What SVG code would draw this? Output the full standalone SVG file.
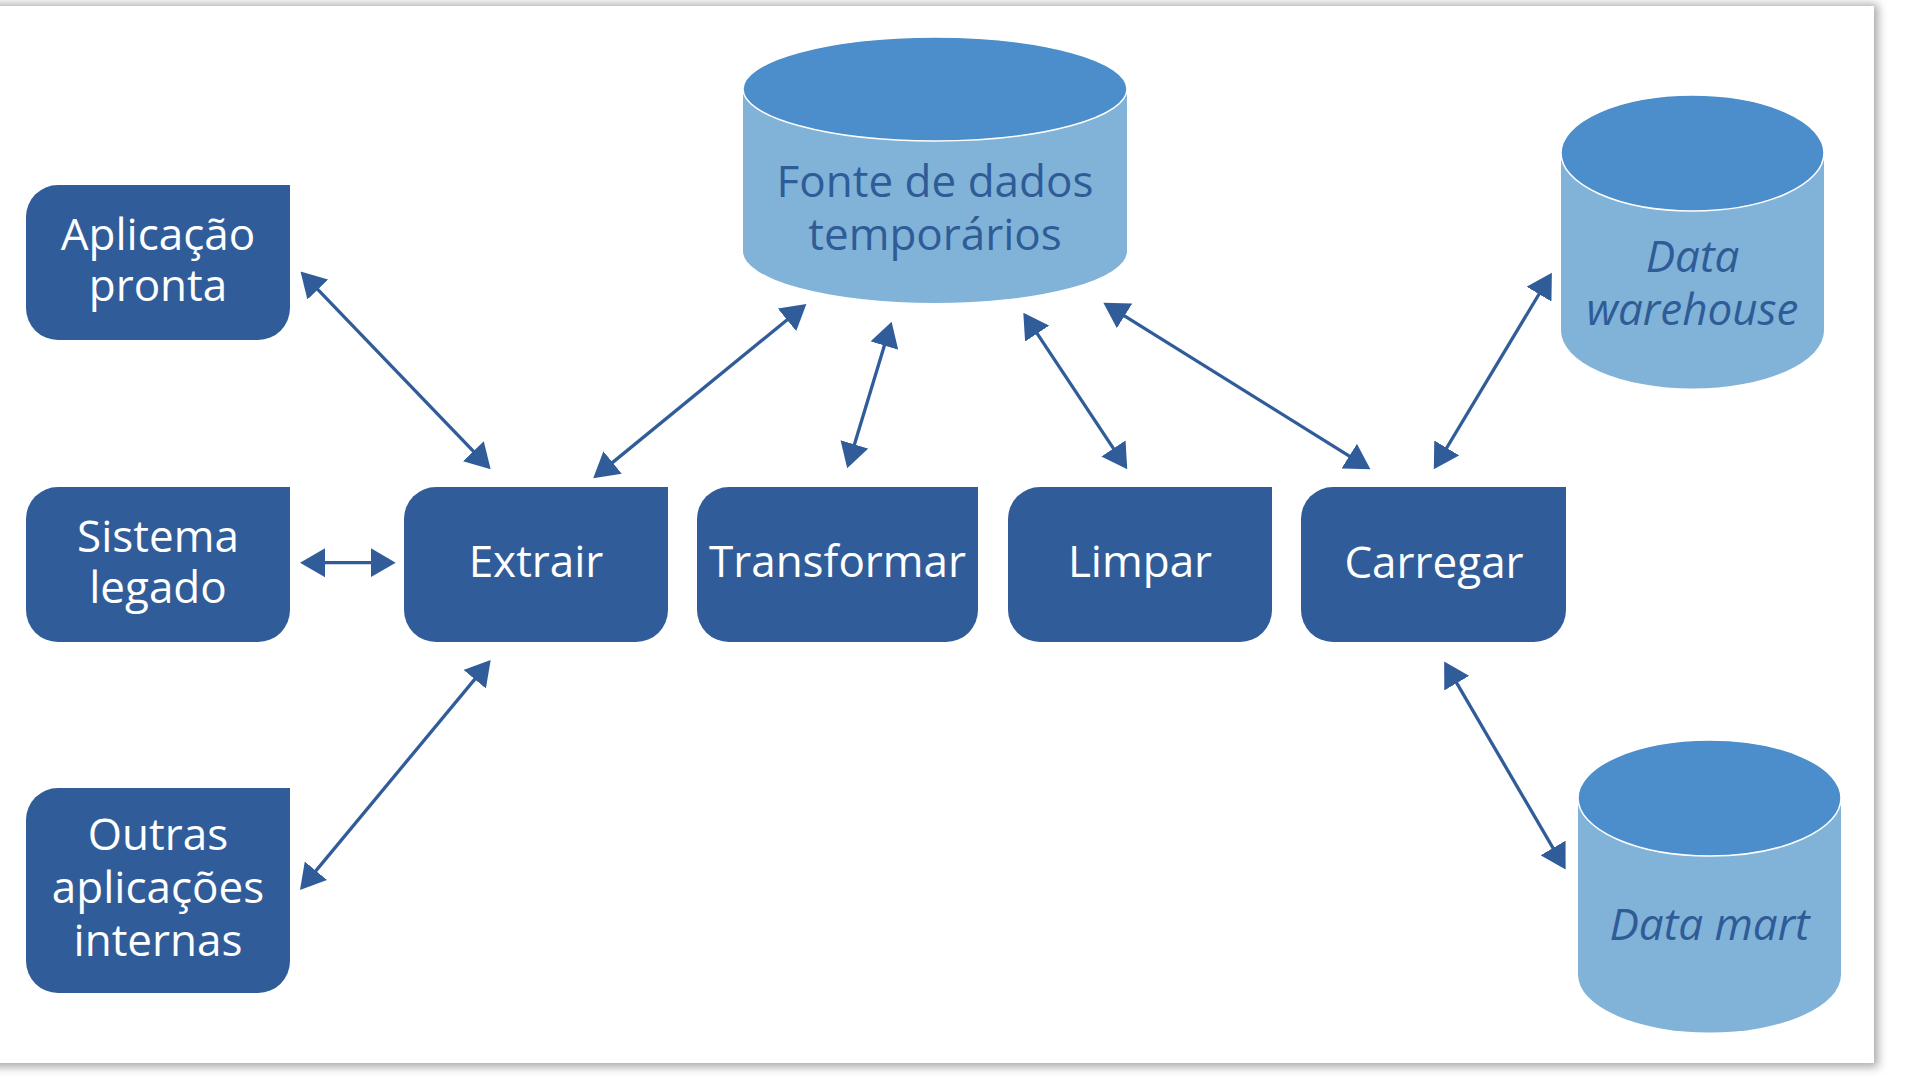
<svg xmlns="http://www.w3.org/2000/svg" width="1906" height="1084" viewBox="0 0 1906 1084">
<defs>
<filter id="sh" x="-5%" y="-5%" width="110%" height="110%">
<feGaussianBlur stdDeviation="5"/>
</filter>
<marker id="ah" viewBox="0 0 25 29" markerUnits="userSpaceOnUse" markerWidth="25" markerHeight="29" refX="20" refY="14.5" orient="auto-start-reverse">
<path d="M0,0 L25,14.5 L0,29 Z" fill="#305d99"/>
</marker>
<style>
.box{fill:#305d99}
.bt{font-family:"Open Sans","Liberation Sans",sans-serif;font-size:44px;fill:#ffffff;text-anchor:middle}
.cyl-body{fill:#80b3d7}
.cyl-top{fill:#4b8ecb;stroke:#ffffff;stroke-width:1.5}
.ct{font-family:"Open Sans","Liberation Sans",sans-serif;font-size:44px;fill:#2f5b97;text-anchor:middle}
.it{font-style:italic}
.conn line{stroke:#305d99;stroke-width:3.3;marker-start:url(#ah);marker-end:url(#ah)}
</style>
</defs>
<rect x="0" y="0" width="1906" height="1084" fill="#ffffff"/>
<rect x="-20" y="4" width="1898" height="1063" fill="#8a8a8a" opacity="0.75" filter="url(#sh)"/>
<rect x="-20" y="6" width="1894" height="1057" fill="#ffffff"/>

<g id="aplicacao">
<path class="box" d="M58,185 H290 V308 A32,32 0 0 1 258,340 H58 A32,32 0 0 1 26,308 V217 A32,32 0 0 1 58,185 Z"/>
<text class="bt" x="158" y="250">Aplicação</text>
<text class="bt" x="158" y="301">pronta</text>
</g>
<g id="sistema">
<path class="box" d="M58,487 H290 V610 A32,32 0 0 1 258,642 H58 A32,32 0 0 1 26,610 V519 A32,32 0 0 1 58,487 Z"/>
<text class="bt" x="158" y="552">Sistema</text>
<text class="bt" x="158" y="603">legado</text>
</g>
<g id="outras">
<path class="box" d="M58,788 H290 V961 A32,32 0 0 1 258,993 H58 A32,32 0 0 1 26,961 V820 A32,32 0 0 1 58,788 Z"/>
<text class="bt" x="158" y="850">Outras</text>
<text class="bt" x="158" y="903">aplicações</text>
<text class="bt" x="158" y="956">internas</text>
</g>
<g id="extrair">
<path class="box" d="M436,487 H668 V610 A32,32 0 0 1 636,642 H436 A32,32 0 0 1 404,610 V519 A32,32 0 0 1 436,487 Z"/>
<text class="bt" x="536" y="577">Extrair</text>
</g>
<g id="transformar">
<path class="box" d="M729,487 H978 V610 A32,32 0 0 1 946,642 H729 A32,32 0 0 1 697,610 V519 A32,32 0 0 1 729,487 Z"/>
<text class="bt" x="837.5" y="577">Transformar</text>
</g>
<g id="limpar">
<path class="box" d="M1040,487 H1272 V610 A32,32 0 0 1 1240,642 H1040 A32,32 0 0 1 1008,610 V519 A32,32 0 0 1 1040,487 Z"/>
<text class="bt" x="1140" y="577">Limpar</text>
</g>
<g id="carregar">
<path class="box" d="M1333,487 H1566 V610 A32,32 0 0 1 1534,642 H1333 A32,32 0 0 1 1301,610 V519 A32,32 0 0 1 1333,487 Z"/>
<text class="bt" x="1434" y="578">Carregar</text>
</g>

<g id="fonte">
<path class="cyl-body" d="M743,89 V251 A192,52 0 0 0 1127,251 V89 Z"/>
<ellipse class="cyl-top" cx="935" cy="89" rx="192" ry="52"/>
<text class="ct" x="935" y="197">Fonte de dados</text>
<text class="ct" x="935" y="250">temporários</text>
</g>
<g id="warehouse">
<path class="cyl-body" d="M1561,153 V330.5 A131.5,58 0 0 0 1824,330.5 V153 Z"/>
<ellipse class="cyl-top" cx="1692.5" cy="153" rx="131.5" ry="58"/>
<text class="ct it" x="1692.5" y="272">Data</text>
<text class="ct it" x="1692.5" y="324.5">warehouse</text>
</g>
<g id="datamart">
<path class="cyl-body" d="M1578,798 V974.6 A131.5,58 0 0 0 1841,974.6 V798 Z"/>
<ellipse class="cyl-top" cx="1709.5" cy="798" rx="131.5" ry="58"/>
<text class="ct it" x="1709.5" y="940">Data mart</text>
</g>

<g id="connectors" class="conn">
<line x1="304" y1="275.1" x2="487.2" y2="465.7"/>
<line x1="597.1" y1="475.1" x2="802.5" y2="307.2"/>
<line x1="848.65" y1="463.5" x2="890.15" y2="326.5"/>
<line x1="1026.1" y1="316.9" x2="1124.5" y2="465.1"/>
<line x1="1107.6" y1="305.3" x2="1366.2" y2="466.7"/>
<line x1="1436.4" y1="465" x2="1549.3" y2="277"/>
<line x1="305" y1="562.7" x2="390.7" y2="562.7"/>
<line x1="487.5" y1="663.85" x2="303.2" y2="886.15"/>
<line x1="1446.7" y1="665.9" x2="1563.1" y2="865.3"/>
</g>
</svg>
